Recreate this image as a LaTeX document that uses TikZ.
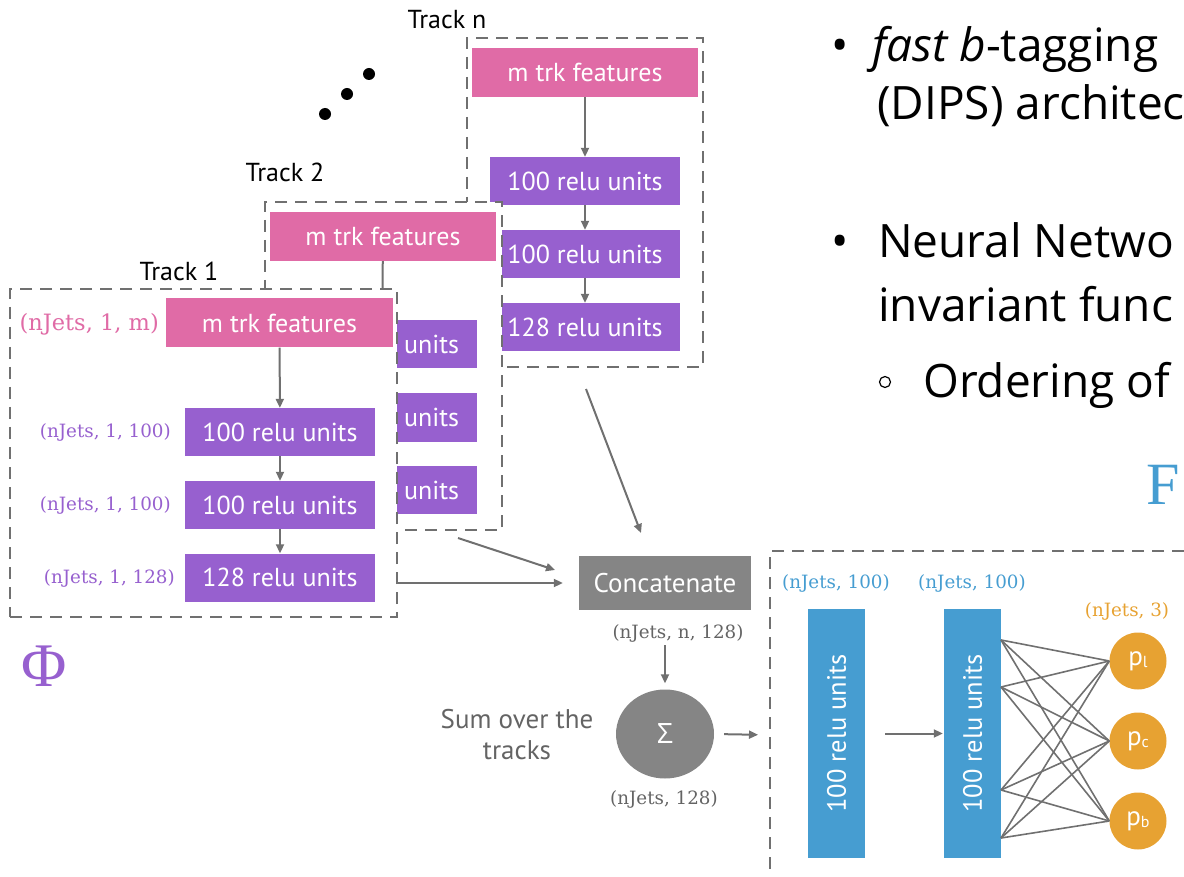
\documentclass[tikz,border=0pt]{standalone}
\usepackage{fontspec}
\usetikzlibrary{arrows.meta,shapes.geometric}
\setmainfont{Open Sans}
\newfontfamily\din{PT Sans}
\newfontfamily\osans{Open Sans}
\newfontfamily\serifF{Liberation Serif}
\newfontfamily\tw{DejaVu Serif}
\definecolor{pinkc}{RGB}{224,107,166}
\definecolor{purc}{RGB}{151,96,207}
\definecolor{bluec}{RGB}{70,157,209}
\definecolor{orangec}{RGB}{231,162,50}
\definecolor{grayc}{RGB}{133,133,133}
\definecolor{dashc}{RGB}{112,112,112}
\definecolor{arrc}{RGB}{112,112,112}
\definecolor{txtgray}{RGB}{100,100,100}
\begin{document}
\begin{tikzpicture}[x=1pt,y=-1pt,
  dinbox/.style={inner sep=0pt, text=white, font=\din\fontsize{26}{30}\selectfont},
  pinkbox/.style={dinbox, fill=pinkc, minimum width=226pt, minimum height=49pt},
  purbox/.style={dinbox, fill=purc, minimum width=190pt, minimum height=48pt},
  bluebox/.style={fill=bluec, inner sep=0pt, minimum width=57pt, minimum height=249pt},
  outcirc/.style={circle, fill=orangec, inner sep=0pt, minimum size=57pt, text=white, font=\din\fontsize{27}{28}\selectfont},
  dashsty/.style={draw=dashc, line width=2.2pt, dash pattern=on 12pt off 8pt},
  trackbox/.style={dashsty, fill=white, inner sep=0pt},
  arr/.style={draw=arrc, line width=2pt, -{Triangle[length=9pt,width=8pt]}},
  wire/.style={draw=arrc, line width=1.6pt},
  lbl/.style={inner sep=0pt, font=\tw\fontsize{18.3}{20}\selectfont},
  tracklbl/.style={inner sep=0pt, font=\din\fontsize{26}{30}\selectfont, text=black},
  bullettxt/.style={inner sep=0pt, anchor=base west, font=\osans\fontsize{46}{50}\selectfont}
]
\useasboundingbox (0,0) rectangle (1184,877);

% ---------- Track n ----------
\node[trackbox, minimum width=236pt, minimum height=329pt] (TN) at (585,202.5) {};
\node[pinkbox] (nF) at (585,72.5) {m trk features};
\node[purbox] (n1) at (585,181) {100 relu units};
\node[purbox] (n2) at (585,254) {100 relu units};
\node[purbox] (n3) at (585,327) {128 relu units};
\draw[arr] (nF) -- (n1);
\draw[arr] (n1) -- (n2);
\draw[arr] (n2) -- (n3);
\node[tracklbl] (tlN) at (447,20) {Track n};

% dots
\fill (325,114) circle (6pt);
\fill (347,94) circle (6pt);
\fill (369,74) circle (6pt);

% ---------- Track 2 ----------
\node[trackbox, minimum width=237pt, minimum height=328pt] (T2) at (383.5,366) {};
\node[pinkbox] (tF) at (383,236.5) {m trk features};
\node[purbox] (t1) at (382,344) {};
\node[purbox] (t2) at (382,417.5) {};
\node[purbox] (t3) at (382,490) {};
\draw[arr] (tF) -- (t1);
\draw[arr] (t1) -- (t2);
\draw[arr] (t2) -- (t3);
\node[tracklbl] (tl2) at (285,172) {Track 2};

% ---------- Track 1 ----------
\node[trackbox, minimum width=387pt, minimum height=328pt] (T1) at (203.5,453) {};
\node[dinbox, anchor=west] (t1u) at (404,344) {units};
\node[dinbox, anchor=west] (t2u) at (404,417.5) {units};
\node[dinbox, anchor=west] (t3u) at (404,490) {units};
\node[pinkbox, minimum width=227pt] (oF) at (279.5,323) {m trk features};
\node[purbox] (o1) at (280,432) {100 relu units};
\node[purbox] (o2) at (280,505) {100 relu units};
\node[purbox] (o3) at (280,577.5) {128 relu units};
\draw[arr] (oF) -- (o1);
\draw[arr] (o1) -- (o2);
\draw[arr] (o2) -- (o3);
\node[tracklbl] (tl1) at (179,271) {Track 1};
\node[lbl, anchor=east, text=pinkc, font=\tw\fontsize{22.5}{24}\selectfont] (lF) at (159,324) {(nJets, 1, m)};
\node[lbl, anchor=east, text=purc] (l1) at (171,432) {(nJets, 1, 100)};
\node[lbl, anchor=east, text=purc] (l2) at (171,505) {(nJets, 1, 100)};
\node[lbl, anchor=east, text=purc] (l3) at (175,578) {(nJets, 1, 128)};

\node[text=purc, inner sep=0pt, font=\serifF\fontsize{62}{62}\selectfont] (phi) at (44,666) {Φ};

% ---------- Concatenate & sum ----------
\node[dinbox, fill=grayc, minimum width=172pt, minimum height=54pt, font=\din\fontsize{27}{30}\selectfont] (cat) at (665,583) {Concatenate};
\coordinate (a2s) at (458,538);
\coordinate (a2e) at (555,570);
\coordinate (a3s) at (586,389);
\coordinate (a3e) at (641,533);
\draw[arr, shorten >=16pt] (T1.east |- cat.west) -- (cat.west);
\draw[arr] (a2s) -- (a2e);
\draw[arr] (a3s) -- (a3e);

\node[lbl, text=txtgray] (catl) at (678,633) {(nJets, n, 128)};
\node[ellipse, fill=grayc, minimum width=98pt, minimum height=89pt, inner sep=0pt, text=white, font=\osans\fontsize{28}{30}\selectfont] (sig) at (665,734) {Σ};
\draw[arr, shorten <=3pt, shorten >=6pt] (catl.south -| sig.north) -- (sig.north);
\node[lbl, text=txtgray] (sigl) at (664,799) {(nJets, 128)};
\node[inner sep=0pt, align=center, text=txtgray, font=\din\fontsize{27}{31}\selectfont] (sum) at (517,735) {Sum over the\\tracks};

% ---------- F block ----------
\coordinate (rbw) at (770,735);
\draw[dashsty] (1184,551) -- (770,551) -- (770,877);
\draw[arr, shorten <=10pt, shorten >=12pt] (sig.east) -- (rbw);

\node[bluebox] (B1) at (836.5,733.5) {};
\node[bluebox] (B2) at (972.5,733.5) {};
\node[rotate=90, inner sep=0pt, text=white, font=\din\fontsize{26.5}{28}\selectfont] (B1t) at (B1) {100 relu units};
\node[rotate=90, inner sep=0pt, text=white, font=\din\fontsize{26.5}{28}\selectfont] (B2t) at (B2) {100 relu units};
\draw[arr, shorten <=20pt, shorten >=1pt] (B1.east) -- (B2.west);
\node[lbl, text=bluec] (bl1) at (836,583) {(nJets, 100)};
\node[lbl, text=bluec] (bl2) at (972,583) {(nJets, 100)};
\node[lbl, text=orangec] (ol) at (1127,611) {(nJets, 3)};

\node[outcirc] (pl) at (1138,661) {p\raisebox{-2pt}{\fontsize{16}{16}\selectfont l}};
\node[outcirc] (pc) at (1138,741) {p\raisebox{-2pt}{\fontsize{16}{16}\selectfont c}};
\node[outcirc] (pb) at (1138,821) {p\raisebox{-2pt}{\fontsize{16}{16}\selectfont b}};
\coordinate (s1) at (1001,640);
\coordinate (s2) at (1001,687);
\coordinate (s3) at (1001,790);
\coordinate (s4) at (1001,838);
\foreach \s in {s1,s2,s3,s4}{
  \foreach \t in {pl,pc,pb}{
    \draw[wire] (\s) -- (\t.west);
  }
}

% ---------- bullet text ----------
\node[bullettxt] (bu1) at (831,62) {•};
\node[bullettxt] (tx1) at (872,62) {\textit{fast b}-tagging};
\node[bullettxt] (tx2) at (877,120) {(DIPS) architec};
\node[bullettxt] (bu2) at (831,258) {•};
\node[bullettxt] (tx3) at (878,258) {Neural Netwo};
\node[bullettxt] (tx4) at (878,322) {invariant func};
\node[circle, draw=black, line width=1.2pt, minimum size=11pt, inner sep=0pt] (bu3) at (885,382) {};
\node[bullettxt] (tx5) at (923,398) {Ordering of};
\node[inner sep=0pt, text=bluec, font=\serifF\fontsize{60}{60}\selectfont] (bigF) at (1163,485) {F};
\end{tikzpicture}
\end{document}
